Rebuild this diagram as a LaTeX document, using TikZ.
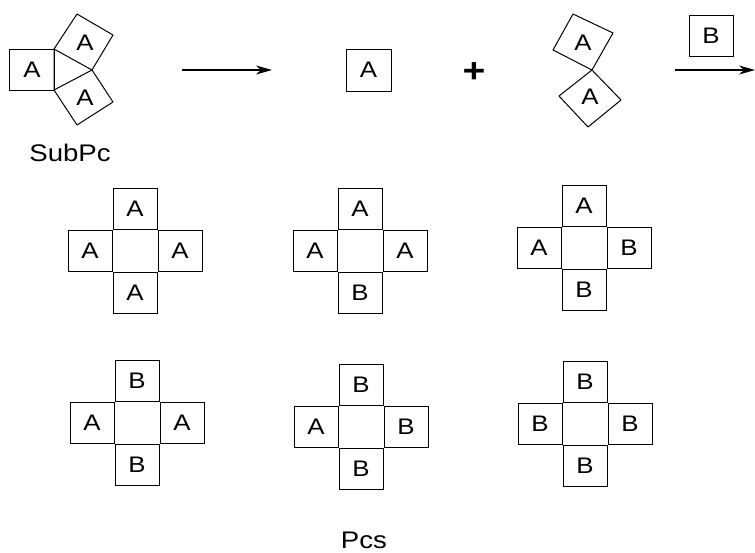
\documentclass[tikz,border=0pt]{standalone}
\usepackage{fontspec}
\setmainfont{Liberation Sans}[FakeStretch=1.15]
\usetikzlibrary{arrows.meta}
\tikzset{
  cell/.style={draw, line width=1pt, minimum width=44pt, minimum height=41pt, inner sep=0pt, font=\fontsize{22.5}{22.5}\selectfont},
  sq/.style={draw, line width=1pt, line join=round},
  lbl/.style={inner sep=0pt, font=\fontsize{22.5}{22.5}\selectfont},
  big/.style={inner sep=0pt, font=\fontsize{24}{24}\selectfont},
  arr/.style={line width=1.1pt, -{Stealth[length=16pt, width=9pt, inset=5pt]}}
}
\newcommand\pcross[7]{%
  \node[cell, draw=none] (#1c) at (#2+22,#3+20.5) {};
  \node[cell, anchor=south] (#1t) at (#1c.north) {#4};
  \node[cell, anchor=east] (#1l) at (#1c.west) {#5};
  \node[cell, anchor=west] (#1r) at (#1c.east) {#6};
  \node[cell, anchor=north] (#1b) at (#1c.south) {#7};
}
\begin{document}
\begin{tikzpicture}[x=1pt, y=-1pt]
\useasboundingbox (0,0) rectangle (755,552);
% SubPc
\coordinate (p1) at (54,49);
\coordinate (p2) at (54,90);
\coordinate (p3) at (92,70);
\draw[sq] (9,49) rectangle (p2);
\draw[sq] (p1) -- (p2) -- (p3) -- cycle;
\draw[sq] (p1) -- (77,14) -- (113,35) -- (p3);
\draw[sq] (p2) -- (77,125) -- (113,102) -- (p3);
\node[lbl] (s1) at (32,70) {A};
\node[lbl] (s2) at (85,43) {A};
\node[lbl] (s3) at (85,98) {A};
\node[big, anchor=base] (subpc) at (70,161) {SubPc};
% first arrow
\coordinate (a1s) at (182,70);
\coordinate (a1e) at (272,70);
\draw[arr] (a1s) -- (a1e);
% A box
\node[cell, minimum width=45pt, minimum height=42pt] (abox) at (368.5,70) {A};
% plus
\node[inner sep=0pt, font=\fontsize{34}{34}\selectfont\bfseries] (plus) at (474,73) {+};
% pair
\coordinate (q) at (592,70);
\draw[sq] (q) -- (553,50) -- (573,14) -- (613,33) -- cycle;
\draw[sq] (q) -- (621,100) -- (588,127) -- (559,96) -- cycle;
\node[lbl] (d1) at (583,43) {A};
\node[lbl] (d2) at (590,97) {A};
% B box and arrow
\node[cell] (bbox) at (711,35.5) {B};
\coordinate (a2s) at (675,70);
\coordinate (a2e) at (755,70);
\draw[arr] (a2s) -- (a2e);
% crosses
\pcross{c1}{113}{230}{A}{A}{A}{A}
\pcross{c2}{338}{230}{A}{A}{A}{B}
\pcross{c3}{562}{227}{A}{A}{B}{B}
\pcross{c4}{115}{402}{B}{A}{A}{B}
\pcross{c5}{339}{406}{B}{A}{B}{B}
\pcross{c6}{563}{403}{B}{B}{B}{B}
\node[big, anchor=base] (pcs) at (364,548) {Pcs};
\end{tikzpicture}
\end{document}
